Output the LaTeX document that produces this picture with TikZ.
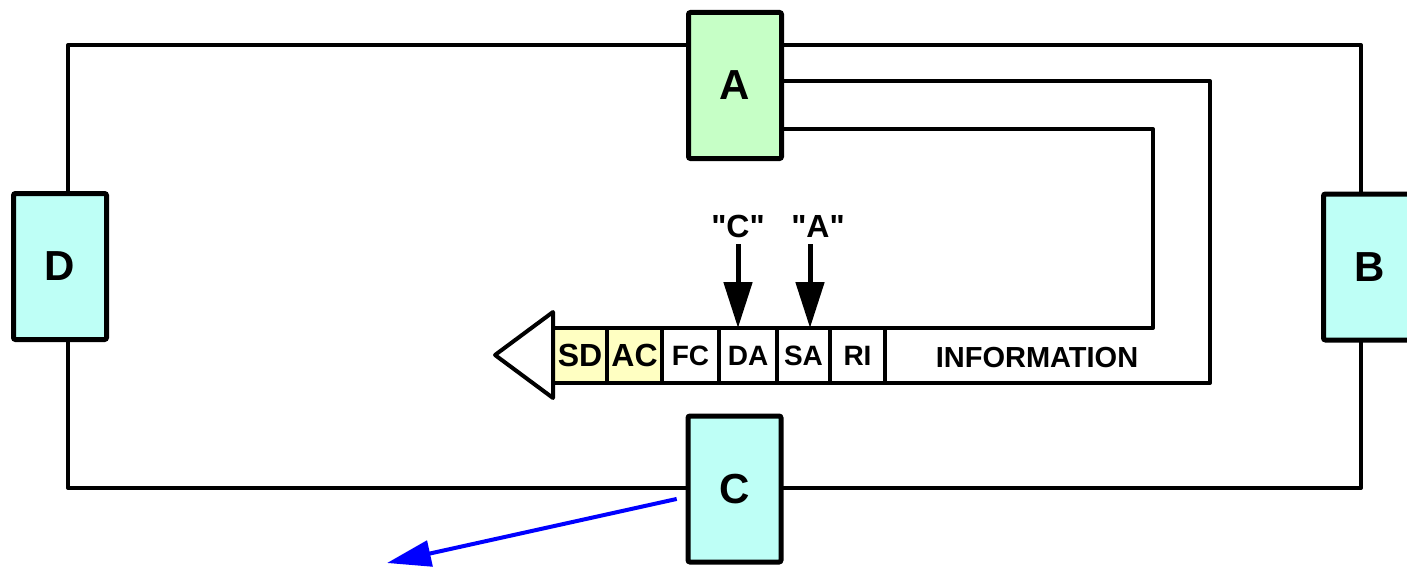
\documentclass[tikz,border=0pt]{standalone}
\usepackage{fontspec}
\setmainfont{Liberation Sans}
\usetikzlibrary{arrows.meta}
\definecolor{stngreen}{RGB}{198,255,198}
\definecolor{stncyan}{RGB}{190,255,246}
\definecolor{hdryellow}{RGB}{255,255,194}
\tikzset{
	ring/.style={line width=2pt, line join=round},
	station/.style={draw, line width=2.5pt, rounded corners=1pt, minimum width=46.5pt, minimum height=73pt, inner sep=0pt, font=\fontsize{21}{21}\selectfont\bfseries},
	cell/.style={draw, line width=2pt, minimum height=27.5pt, inner sep=0pt, outer sep=0pt, font=\fontsize{14}{14}\selectfont\bfseries},
	hdrcell/.style={cell, fill=hdryellow, font=\fontsize{16}{16}\selectfont\bfseries},
	quote/.style={font=\fontsize{16}{16}\selectfont\bfseries},
	fatarrow/.style={line width=2.5pt, -{Triangle[length=23pt,width=14pt]}},
	notearrow/.style={blue, line width=2pt, -{Triangle[length=22pt,width=13pt]}}
}
\begin{document}
\begin{tikzpicture}[x=0.5pt,y=-0.5pt]
	\useasboundingbox (0,0) rectangle (1407,567);
	% token ring
	\draw[ring] (68,45) rectangle (1361,488);
	\node[station, fill=stngreen] (stnA) at (735,85.5) {A};
	\node[station, fill=stncyan] (stnB) at (1370,267) {B};
	\node[station, fill=stncyan] (stnC) at (734.5,489) {C};
	\node[station, fill=stncyan] (stnD) at (60,266.5) {D};
	% frame
	\node[hdrcell, minimum width=27pt] (sd) at (580,355.5) {SD};
	\node[hdrcell, minimum width=27.5pt] (ac) at (634.5,355.5) {AC};
	\node[cell, minimum width=28.5pt] (fc) at (690.5,355.5) {FC};
	\node[cell, minimum width=29pt] (da) at (748,355.5) {DA};
	\node[cell, minimum width=26.5pt] (sa) at (803.5,355.5) {SA};
	\node[cell, minimum width=27.5pt] (ri) at (857.5,355.5) {RI};
	\node[font=\fontsize{14.5}{14.5}\selectfont\bfseries] (info) at (1037,358) {INFORMATION};
	\draw[ring, fill=white] (sd.north west |- 0,312) -- (495,355) -- (sd.south west |- 0,398) -- cycle;
	\draw[ring] (stnA.east |- 0,81) -- (1210,81) -- (1210,383) -- (ri.south east);
	\draw[ring] (stnA.east |- 0,129) -- (1153,129) -- (1153,328) -- (ri.north east);
	% addresses
	\node[quote] (lblC) at (738,226) {\textquotedbl C\textquotedbl};
	\node[quote] (lblA) at (818,226) {\textquotedbl A\textquotedbl};
	\draw[fatarrow] (lblC.south) -- (lblC.south |- da.north);
	\draw[fatarrow] ([xshift=-4pt]lblA.south) -- ([xshift=-4pt]lblA.south |- sa.north);
	\coordinate (note) at (387,563);
	\draw[notearrow, shorten <=4.5pt] (stnC.west |- 0,497) -- (note);
\end{tikzpicture}
\end{document}
